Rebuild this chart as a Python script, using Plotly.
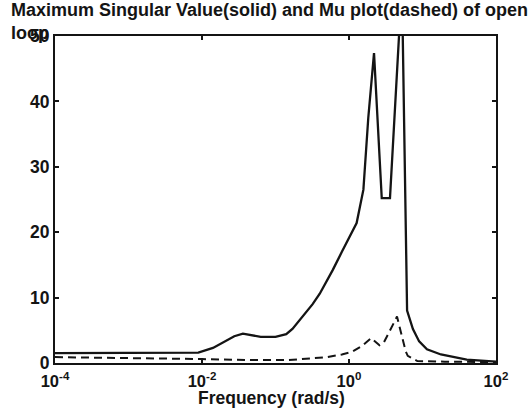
import plotly.graph_objects as go

# Frequency (rad/s) and maximum singular value (solid line)
sv_freq = [0.0001, 0.001, 0.005, 0.0089, 0.0141, 0.02, 0.0275, 0.036, 0.045, 0.063,
           0.1, 0.14, 0.17, 0.21, 0.26, 0.32, 0.4, 0.6, 0.8, 1.03, 1.27, 1.57,
           1.83, 2.19, 2.79, 3.61, 5.25, 6.17, 7.41, 9.0, 11.5, 17.8, 40.0, 100.0]
sv_vals = [1.5, 1.5, 1.5, 1.6, 2.3, 3.2, 4.1, 4.5, 4.3, 4.0,
           4.0, 4.4, 5.2, 6.5, 7.8, 9.0, 10.6, 14.2, 17.0, 19.3, 21.4, 26.5,
           37.5, 47.4, 25.2, 25.2, 58.0, 8.0, 5.2, 3.3, 2.1, 1.3, 0.5, 0.2]

# Frequency (rad/s) and mu (dashed line)
mu_freq = [0.0001, 0.001, 0.01, 0.05, 0.15, 0.3, 0.5, 0.8, 1.1, 1.5, 2.0, 2.6,
           3.0, 4.5, 5.4, 5.9, 6.3, 8.5, 20.0, 100.0]
mu_vals = [0.9, 0.8, 0.6, 0.45, 0.45, 0.7, 0.9, 1.3, 1.7, 2.6, 3.8, 2.7,
           3.2, 7.1, 3.2, 1.8, 1.1, 0.3, 0.2, 0.15]

x_tickvals = [1e-4, 1e-2, 1e0, 1e2]
x_ticktext = ["10<sup>-4</sup>", "10<sup>-2</sup>", "10<sup>0</sup>", "10<sup>2</sup>"]
y_tickvals = [0, 10, 20, 30, 40, 50]

title_text = "<b>Maximum Singular Value(solid) and Mu plot(dashed) of open<br>loop</b>"
xlabel = "<b>Frequency (rad/s)</b>"

FONT = "Liberation Sans"
INK = "#141414"
FS = 17.5

fig = go.Figure()
fig.add_trace(go.Scatter(x=sv_freq, y=sv_vals, mode="lines",
                         line=dict(color=INK, width=2.3), showlegend=False))
fig.add_trace(go.Scatter(x=mu_freq, y=mu_vals, mode="lines",
                         line=dict(color=INK, width=2, dash="8px,5px"), showlegend=False))

axis_common = dict(showline=True, linecolor=INK, linewidth=2, mirror="ticks",
                   ticks="inside", ticklen=4, tickcolor=INK, tickwidth=1.5,
                   showgrid=False, zeroline=False, automargin=False)

fig.update_xaxes(type="log", range=[-4, 2], tickvals=x_tickvals, ticktext=x_ticktext,
                 ticklabelstandoff=2,
                 tickfont=dict(family=FONT, size=16.5, color=INK, weight="bold"),
                 **axis_common)
fig.update_yaxes(range=[0, 50], tickvals=y_tickvals,
                 tickfont=dict(family=FONT, size=FS, color=INK, weight="bold"),
                 **axis_common)

fig.add_annotation(text=title_text, xref="paper", yref="paper",
                   x=-0.105, y=1.115, xanchor="left", yanchor="top", align="left",
                   showarrow=False, font=dict(family=FONT, size=18, color=INK))

fig.add_annotation(text=xlabel, xref="paper", yref="paper",
                   x=0.49, y=-0.107, xanchor="center", yanchor="middle",
                   showarrow=False, font=dict(family=FONT, size=FS, color=INK))

fig.update_layout(width=531, height=409, margin=dict(l=55, r=35, t=36, b=46),
                  paper_bgcolor="white", plot_bgcolor="white")

fig.write_html("out.html")
